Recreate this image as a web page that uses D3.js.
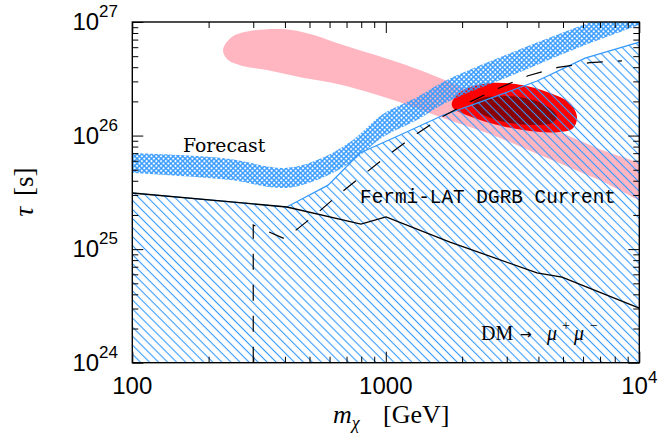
<!DOCTYPE html>
<html>
<head>
<meta charset="utf-8">
<script src="https://cdn.jsdelivr.net/npm/d3@7"></script>
<style>
  html, body { margin: 0; padding: 0; background: #fff; }
  svg { display: block; }
</style>
</head>
<body>
<svg id="chart" width="663" height="441"></svg>
<script>
// ---- data: dark-matter mass [GeV] vs lifetime tau [s] ----

// DM -> mu+ mu- current lower limit (solid black)
const limitMass = [100, 407, 798, 1002, 1791, 3950, 4955, 10000];
const limitTau  = [3.12e25, 2.35e25, 1.66e25, 1.92e25, 1.155e25, 6.17e24, 5.68e24, 3.03e24];

// Fermi-LAT DGRB current excluded region, upper boundary (blue hatched below)
const dgrbMass = [100, 407, 592, 791, 1138, 1682, 2353, 3950, 6110, 10000];
const dgrbTau  = [3.12e25, 2.35e25, 3.66e25, 7.02e25, 1.01e26, 1.51e26, 1.97e26, 3.02e26, 4.81e26, 6.65e26];

// dashed limit curve
const dashMass = [300, 300, 400, 526, 648, 813, 1020, 1304, 1666, 2148, 2771, 3638, 4778, 6390, 8543];
const dashTau  = [1e24, 1.63e25, 1.23e25, 2.0e25, 2.99e25, 4.49e25, 6.73e25, 1.01e26, 1.46e26, 1.98e26, 2.60e26, 3.36e26, 3.98e26, 4.38e26, 4.55e26];

// forecast sensitivity band (cross-hatched)
const forecastMass = [100, 154, 243, 400, 535, 723, 975, 1327, 1743, 3176, 5834, 10000];
const forecastLow  = [4.68e25, 4.40e25, 4.06e25, 3.45e25, 4.06e25, 5.73e25, 9.70e25, 1.37e26, 1.97e26, 3.41e26, 6.01e26, 9.4e26];
const forecastHigh = [7.02e25, 6.73e25, 6.21e25, 5.18e25, 6.08e25, 8.77e25, 1.55e26, 2.18e26, 3.08e26, 5.43e26, 9.2e26, 1.41e27];

// pink band outline (upper edge left->right, then lower edge right->left)
const pinkMass = [228, 247, 291, 393, 502, 678, 1138, 1636, 2576, 4325, 6810, 12070,
                  12070, 6810, 4325, 2576, 1636, 1138, 678, 459, 340, 266, 239];
const pinkTau  = [5.66e26, 7.36e26, 8.32e26, 8.66e26, 7.83e26, 6.26e26, 4.35e26, 3.21e26, 2.05e26, 1.21e26, 7.76e25, 4.40e25,
                  2.44e25, 4.14e25, 6.34e25, 1.03e26, 1.46e26, 1.97e26, 2.78e26, 3.27e26, 3.77e26, 4.17e26, 4.62e26];

// best-fit regions: outer (red) and inner (dark red)
const redMass  = [1825, 2016, 2576, 3477, 4443, 5328, 5679, 5476, 4735, 3477, 2576, 2091, 1841];
const redTau   = [1.97e26, 2.51e26, 2.90e26, 2.78e26, 2.37e26, 1.93e26, 1.46e26, 1.16e26, 1.07e26, 1.12e26, 1.29e26, 1.51e26, 1.75e26];
const darkMass = [2212, 2399, 2826, 3545, 4253, 4735, 4524, 3877, 3089, 2530, 2269];
const darkTau  = [1.93e26, 2.14e26, 2.23e26, 2.14e26, 1.86e26, 1.49e26, 1.29e26, 1.24e26, 1.29e26, 1.46e26, 1.68e26];

// axis ticks and labels
const xMajor = [100, 1000, 10000];
const xLabels = [["100", ""], ["1000", ""], ["10", "4"]];
const yMajor = [1e24, 1e25, 1e26, 1e27];
const yLabels = [["10", "24"], ["10", "25"], ["10", "26"], ["10", "27"]];

// ---- layout ----
const W = 663, H = 441;
const margin = { left: 132.3, top: 22, right: 23.7, bottom: 78.3 };
const x = d3.scaleLog().domain([100, 1e4]).range([margin.left, W - margin.right]);
const y = d3.scaleLog().domain([1e24, 1e27]).range([H - margin.bottom, margin.top]);

const BLUE = "#3399ff";
const svg = d3.select("#chart");
const defs = svg.append("defs");

defs.append("clipPath").attr("id", "plotClip")
  .append("rect")
  .attr("x", margin.left).attr("y", margin.top)
  .attr("width", W - margin.left - margin.right)
  .attr("height", H - margin.top - margin.bottom);

// single diagonal hatch
const hatch = defs.append("pattern").attr("id", "hatch")
  .attr("patternUnits", "userSpaceOnUse")
  .attr("width", 12).attr("height", 6.4)
  .attr("patternTransform", "rotate(45)");
hatch.append("line").attr("x1", 0).attr("x2", 12).attr("y1", 3.2).attr("y2", 3.2)
  .attr("stroke", BLUE).attr("stroke-width", 1.1);

// fine cross hatch
const XS = 3.4;
const xh = defs.append("pattern").attr("id", "xhatch")
  .attr("patternUnits", "userSpaceOnUse")
  .attr("width", XS).attr("height", XS)
  .attr("patternTransform", "rotate(45)");
xh.append("line").attr("x1", 0).attr("x2", XS).attr("y1", XS / 2).attr("y2", XS / 2)
  .attr("stroke", BLUE).attr("stroke-width", 1.4);
xh.append("line").attr("y1", 0).attr("y2", XS).attr("x1", XS / 2).attr("x2", XS / 2)
  .attr("stroke", BLUE).attr("stroke-width", 1.4);

const zip = (ms, ts) => ms.map((m, i) => [m, ts[i]]);
const line = d3.line().x(d => x(d[0])).y(d => y(d[1]));
const closedSmooth = d3.line().x(d => x(d[0])).y(d => y(d[1])).curve(d3.curveCatmullRomClosed.alpha(0.5));

const plot = svg.append("g").attr("clip-path", "url(#plotClip)");

// pink band
plot.append("path")
  .attr("d", closedSmooth(zip(pinkMass, pinkTau)))
  .attr("fill", "#ffb6c1");

// red best-fit regions
plot.append("path").attr("d", closedSmooth(zip(redMass, redTau))).attr("fill", "#ff0000");
plot.append("path").attr("d", closedSmooth(zip(darkMass, darkTau))).attr("fill", "#8b0000");

// Fermi-LAT DGRB excluded region
const dgrbPts = zip(dgrbMass, dgrbTau);
const dgrbPoly = dgrbPts.concat([[1e4, 1e24], [100, 1e24]]);
plot.append("path").attr("d", line(dgrbPoly) + "Z").attr("fill", "url(#hatch)");
plot.append("path").attr("d", line(dgrbPts))
  .attr("fill", "none").attr("stroke", BLUE).attr("stroke-width", 1.2);

// forecast band
const band = d3.area()
  .x(d => x(d[0])).y0(d => y(d[1])).y1(d => y(d[2]))
  .curve(d3.curveCatmullRom.alpha(0.5));
plot.append("path")
  .attr("d", band(forecastMass.map((m, i) => [m, forecastLow[i], forecastHigh[i]])))
  .attr("fill", "url(#xhatch)");

// dashed curve
plot.append("path").attr("d", line(zip(dashMass, dashTau)))
  .attr("fill", "none").attr("stroke", "#000").attr("stroke-width", 1.2)
  .attr("stroke-dasharray", "16,15");

// solid limit
plot.append("path").attr("d", line(zip(limitMass, limitTau)))
  .attr("fill", "none").attr("stroke", "#000").attr("stroke-width", 1.3);

// ---- axes: inward ticks on all four sides ----
const xMinor = [];
[100, 1000].forEach(d => { for (let k = 2; k <= 9; k++) xMinor.push(d * k); });
const yMinor = [];
[1e24, 1e25, 1e26].forEach(d => { for (let k = 2; k <= 9; k++) yMinor.push(d * k); });

const x0 = margin.left, x1 = W - margin.right, y0 = margin.top, y1 = H - margin.bottom;
const noLabel = () => "";
function drawAxis(gen, tr) {
  const g = svg.append("g").attr("transform", tr).call(gen);
  g.select(".domain").remove();
  g.selectAll(".tick line").attr("stroke", "#000").attr("stroke-width", 1);
}
drawAxis(d3.axisBottom(x).tickValues(xMajor).tickSize(-11).tickFormat(noLabel), `translate(0,${y1})`);
drawAxis(d3.axisBottom(x).tickValues(xMinor).tickSize(-6).tickFormat(noLabel), `translate(0,${y1})`);
drawAxis(d3.axisTop(x).tickValues(xMajor).tickSize(-11).tickFormat(noLabel), `translate(0,${y0})`);
drawAxis(d3.axisTop(x).tickValues(xMinor).tickSize(-6).tickFormat(noLabel), `translate(0,${y0})`);
drawAxis(d3.axisLeft(y).tickValues(yMajor).tickSize(-11).tickFormat(noLabel), `translate(${x0},0)`);
drawAxis(d3.axisLeft(y).tickValues(yMinor).tickSize(-6).tickFormat(noLabel), `translate(${x0},0)`);
drawAxis(d3.axisRight(y).tickValues(yMajor).tickSize(-11).tickFormat(noLabel), `translate(${x1},0)`);
drawAxis(d3.axisRight(y).tickValues(yMinor).tickSize(-6).tickFormat(noLabel), `translate(${x1},0)`);

svg.append("rect")
  .attr("x", x0).attr("y", y0).attr("width", x1 - x0).attr("height", y1 - y0)
  .attr("fill", "none").attr("stroke", "#000").attr("stroke-width", 1.4);

// tick labels
const tickFont = "'Liberation Sans', Arial, sans-serif";
xMajor.forEach((v, i) => {
  const t = svg.append("text")
    .attr("x", x(v)).attr("y", y1 + 31)
    .attr("text-anchor", "middle")
    .attr("font-family", tickFont).attr("font-size", 24).attr("fill", "#000");
  t.append("tspan").text(xLabels[i][0]);
  if (xLabels[i][1]) t.append("tspan").attr("dy", -11).attr("font-size", 17).text(xLabels[i][1]);
});
yMajor.forEach((v, i) => {
  const t = svg.append("text")
    .attr("x", 118).attr("y", y(v) + 8)
    .attr("text-anchor", "end")
    .attr("font-family", tickFont).attr("font-size", 24).attr("fill", "#000");
  t.append("tspan").text(yLabels[i][0]);
  t.append("tspan").attr("dy", -13).attr("font-size", 17).text(yLabels[i][1]);
});

// axis titles
const serif = "'Liberation Serif', 'DejaVu Serif', serif";
const xt = svg.append("text")
  .attr("x", 333).attr("y", 423)
  .attr("font-family", serif).attr("font-size", 26).attr("fill", "#000");
xt.append("tspan").attr("font-style", "italic").text("m");
xt.append("tspan").attr("font-style", "italic").attr("font-size", 18).attr("dy", 6).text("χ");
xt.append("tspan").attr("dy", -6).attr("x", 383).text("[GeV]");

const yt = svg.append("text")
  .attr("transform", "translate(33,192) rotate(-90)")
  .attr("text-anchor", "middle")
  .attr("font-family", serif).attr("font-size", 27).attr("fill", "#000");
yt.append("tspan").attr("font-style", "italic").text("τ");
yt.append("tspan").attr("dx", 11).text("[s]");

// in-plot annotations
svg.append("text")
  .attr("x", 183).attr("y", 151.5)
  .attr("font-family", "'DejaVu Serif', serif").attr("font-size", 18.8).attr("fill", "#000")
  .text("Forecast");
svg.append("text")
  .attr("x", 360).attr("y", 203.3)
  .attr("font-family", "'Liberation Mono', monospace").attr("font-size", 19.4).attr("fill", "#000")
  .text("Fermi-LAT DGRB Current");
const dm = svg.append("text")
  .attr("y", 340)
  .attr("font-family", serif).attr("font-size", 20).attr("fill", "#000");
dm.append("tspan").attr("x", 481).text("DM");
dm.append("tspan").attr("x", 520).attr("font-family", "'DejaVu Sans', sans-serif").attr("font-size", 14).attr("dy", -1).text("→");
dm.append("tspan").attr("x", 547).attr("dy", 1).attr("font-style", "italic").text("μ");
dm.append("tspan").attr("x", 562).attr("font-size", 14).attr("dy", -10).text("+");
dm.append("tspan").attr("x", 574).attr("font-style", "italic").attr("dy", 10).text("μ");
dm.append("tspan").attr("x", 590).attr("font-size", 14).attr("dy", -10).text("−");
</script>
</body>
</html>
